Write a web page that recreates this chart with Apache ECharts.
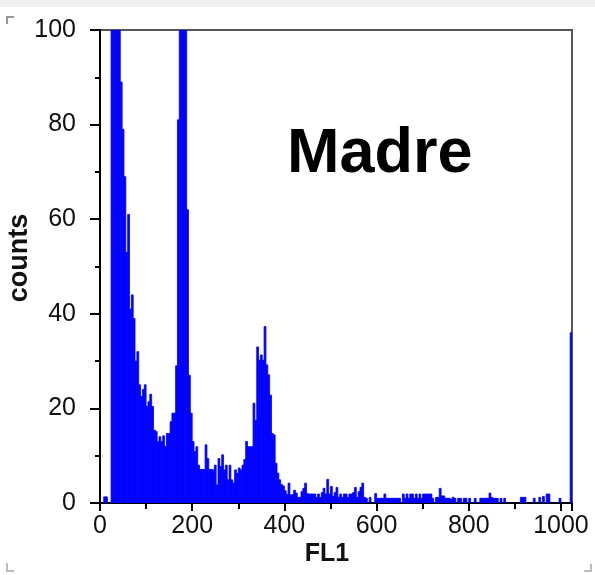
<!DOCTYPE html>
<html>
<head>
<meta charset="utf-8">
<script src="https://cdn.jsdelivr.net/npm/echarts@6/dist/echarts.min.js"></script>
<style>
  html, body { margin: 0; padding: 0; background: #fff; }
  #chart { width: 595px; height: 575px; }
</style>
</head>
<body>
<div id="chart"></div>
<script>
// FL1 channel histogram, 256 bins of 4 channels (0..1024)
const binWidth = 4
const counts = [
  0, 0, 1.3, 1.3, 0, 0, 180, 200, 170, 140,
  115, 89, 79, 69, 53, 61, 41, 44, 39, 30,
  32, 25, 22.5, 24, 25, 20.4, 21.4, 23, 20.4, 15.4,
  15.1, 13, 14, 13, 14.2, 12, 14.7, 14.7, 17.2, 19,
  19, 29, 81, 160, 200, 180, 120, 62, 27, 19,
  13, 10.9, 11.9, 8, 7.1, 7.1, 7.1, 12.3, 9.4, 7.1,
  7.1, 7, 8, 3.8, 9.4, 7.7, 10.2, 7, 8, 4.9,
  8, 4.9, 4.2, 7, 6.3, 7.4, 7, 8, 9.2, 13,
  11.9, 11.9, 11.9, 21.1, 17.5, 33, 30.2, 31.3, 30.2, 37.3,
  29.2, 27.1, 22.8, 14.7, 14.4, 8.4, 6.3, 4.9, 3.9, 3.6,
  2.6, 1.8, 4.2, 1.7, 1.8, 2.7, 2.1, 1.2, 1.2, 2.4,
  3.1, 4.2, 2, 1.9, 1.9, 1.9, 1.9, 1.2, 1.9, 1.2,
  2.2, 3.1, 1.9, 5, 1.9, 3.5, 1.4, 2.2, 3.3, 1.2,
  1.9, 1.2, 1.9, 1.9, 1.2, 1.9, 1.9, 2.2, 3.3, 1.2,
  2.4, 3.3, 4.2, 1.2, 1, 0, 1.2, 0, 0, 2,
  1, 1, 1, 1, 1.9, 1, 1, 1, 1, 1,
  1, 1, 1, 0, 1.9, 1, 1.9, 1, 1.9, 1.9,
  1, 1.9, 1, 1.9, 1, 1.9, 1.9, 1.9, 1.9, 1.9,
  1, 0, 1.2, 1.2, 3.1, 1.5, 1.5, 1, 1, 1,
  0.8, 1.2, 1, 0, 1, 1, 0, 1, 1, 0,
  1, 0, 0, 1, 0, 0, 1, 1, 1, 1,
  1, 2.1, 1.2, 1, 1, 1, 0, 1, 0, 1,
  0, 0, 0, 0, 0, 0, 0, 0, 1.2, 1.2,
  1.2, 0, 0, 0, 0, 1, 0, 0, 1.2, 0,
  1.4, 0, 1.9, 1.9, 0, 0, 0, 0, 0, 1,
  0, 0, 0, 0, 0, 36
]
const xTicks = [0, 200, 400, 600, 800, 1000]
const yTicks = [0, 20, 40, 60, 80, 100]

const fontFamily = '"Liberation Sans", Arial, sans-serif'
const chart = echarts.init(document.getElementById('chart'))

const renderBin = (params, api) => {
  const v = api.value(2)
  if (!v) return null
  const p0 = api.coord([api.value(0), v])
  const p1 = api.coord([api.value(1), 0])
  return {
    type: 'rect',
    shape: { x: p0[0], y: p0[1], width: p1[0] - p0[0], height: p1[1] - p0[1] },
    style: { fill: '#0000ff', stroke: '#0000ff', lineWidth: 0.8 }
  }
}

const option = {
  animation: false,
  grid: {
    left: 100, right: 23, top: 30, bottom: 72,
    outerBoundsMode: 'none', containLabel: false,
    show: true, borderColor: '#555', borderWidth: 2, backgroundColor: '#fff'
  },
  xAxis: {
    type: 'value', min: 0, max: 1024, interval: 200,
    axisLine: { show: true, onZero: false, lineStyle: { color: '#000', width: 2 } },
    axisTick: { show: true, length: 8, lineStyle: { color: '#000', width: 2 } },
    minorTick: { show: true, splitNumber: 2, length: 6, lineStyle: { color: '#000', width: 2 } },
    splitLine: { show: false },
    axisLabel: {
      margin: 11, fontFamily, fontSize: 25, color: '#111',
      formatter: v => xTicks.includes(v) ? String(v) : ''
    }
  },
  yAxis: {
    type: 'value', min: 0, max: 100, interval: 20,
    axisLine: { show: true, lineStyle: { color: '#000', width: 2 } },
    axisTick: { show: true, length: 10, lineStyle: { color: '#000', width: 2 } },
    minorTick: { show: true, splitNumber: 2, length: 5, lineStyle: { color: '#000', width: 2 } },
    splitLine: { show: false },
    axisLabel: {
      margin: 24, fontFamily, fontSize: 25, color: '#111',
      formatter: v => yTicks.includes(v) ? String(v) : ''
    }
  },
  graphic: [
    { type: 'rect', left: 0, top: 0, shape: { width: 595, height: 7 }, style: { fill: '#f0f0f0' }, z: -1 },
    { type: 'polyline', shape: { points: [[7, 24], [7, 17], [14, 17]] }, style: { stroke: '#999', lineWidth: 2, fill: null } },
    { type: 'polyline', shape: { points: [[7, 563], [7, 571], [14, 571]] }, style: { stroke: '#bbb', lineWidth: 2, fill: null } },
    { type: 'polyline', shape: { points: [[584, 571], [591, 571], [591, 564]] }, style: { stroke: '#bbb', lineWidth: 2, fill: null } },
    {
      type: 'text', x: 287, y: 155, z: 10,
      style: { text: 'Madre', fontFamily, fontSize: 63, fontWeight: 'bold', fill: '#000', verticalAlign: 'middle' }
    },
    {
      type: 'text', x: 327, y: 554, z: 10,
      style: { text: 'FL1', fontFamily, fontSize: 25, fontWeight: 'bold', fill: '#111', align: 'center', verticalAlign: 'middle' }
    },
    {
      type: 'text', x: 20, y: 258, rotation: Math.PI / 2, z: 10,
      style: { text: 'counts', fontFamily, fontSize: 27, fontWeight: 'bold', fill: '#111', align: 'center', verticalAlign: 'middle' }
    }
  ],
  series: [{
    type: 'custom',
    renderItem: renderBin,
    clip: true,
    encode: { x: [0, 1], y: 2 },
    data: counts.map((v, i) => [i * binWidth, (i + 1) * binWidth, v])
  }]
}

chart.setOption(option)
</script>
</body>
</html>
